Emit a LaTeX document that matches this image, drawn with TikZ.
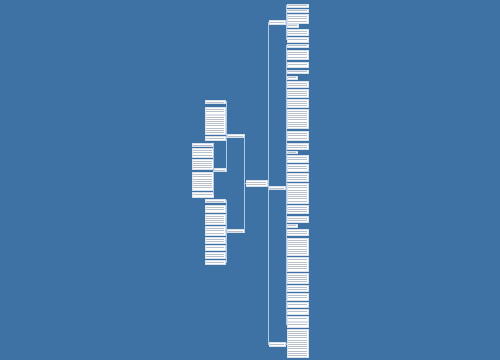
\documentclass[tikz,border=0pt]{standalone}
\definecolor{bgc}{RGB}{62,114,165}
\definecolor{linec}{RGB}{175,202,230}
\definecolor{txtc}{RGB}{185,192,202}
\definecolor{boxline}{RGB}{215,224,235}
\tikzset{
  box/.style={draw=boxline, line width=0.3pt, fill=white, rectangle, inner sep=0pt, outer sep=0pt},
  txt/.style={draw=txtc, line width=0.4pt},
  conn/.style={draw=linec, line width=0.6pt},
}
\newcommand\tb[5]{%
  \node[box, minimum width=#4pt, minimum height=#5pt] (#1) at (#2+#4/2, #3+#5/2) {};
  \pgfmathtruncatemacro\nl{max(1,floor((#5-1.2)/2.2))}
  \foreach \k in {1,...,\nl} {\draw[txt] (#2+1.2, #3+#5/2-\nl*1.1-1.1+\k*2.2) -- ++(#4-2.4,0);}
}
\begin{document}
\begin{tikzpicture}[x=1pt,y=-1pt]
\fill[bgc] (0,0) rectangle (500,360);
\useasboundingbox (0,0) rectangle (500,360);
% root and level 1
\tb{root}{246}{180}{21}{6}
\tb{A}{227}{134}{17}{3.6}
\tb{B}{227}{229}{17}{3.6}
\tb{C}{214}{168}{12}{3.6}
\tb{R1}{269}{20.5}{16}{3.4}
\tb{R2}{269}{186}{16}{3.4}
\tb{R3}{269}{342.5}{16}{3.4}
% A's children
\foreach \i/\y/\h in {1/100/3.5,2/107/7,3/115/19,4/136/4}{\tb{a\i}{205}{\y}{20}{\h}}
% C's children
\foreach \i/\y/\h in {1/143/3.5,2/148/9,3/159/10.5,4/172/18,5/192/5}{\tb{c\i}{192}{\y}{21}{\h}}
% B's children
\foreach \i/\y/\h in {1/199/3.5,2/205/7,3/214/10,4/226/9,5/237/6,6/245/5,7/252/6,8/260/4}{\tb{b\i}{205}{\y}{20}{\h}}
% right column
\foreach \i/\y/\h/\w in {1/4/3/21,2/9/3/21,3/14/9/21,4/24/3/11,5/29/6/21,6/37/5/21,7/44/3/21,8/50/9/21,9/62/5/21,10/70/3/21,11/76/3/10,12/81/6/21,13/89/8/21,14/99/8/21,15/109/19/21,16/131/9/21,17/143/6/21,18/151/2.6/10,19/155/7/21,20/164/7/21,21/173/8/21,22/183/20/21,23/205/8/21,24/216/6/21,25/224/3/10,26/229/6/21,27/238/17/21,28/257/14/21,29/273/10/21,30/285/6/21,31/293/7/21,32/302/5/21,33/309/5/21,34/316/5/21,35/322/5/21,36/329/28/21}{\tb{r\i}{287}{\y}{\w}{\h}}
% connectors
\foreach \n in {A,B}{\draw[conn] (root.west) -- ++(-1.5,0) |- (\n.east);}
\foreach \n in {R1,R2,R3}{\draw[conn] (root.east) -- ++(1,0) |- (\n.west);}
\foreach \i in {1,...,4}{\draw[conn] (A.west) -- ++(-0.8,0) |- (a\i.east);}
\draw[conn] (A.west) -- ++(-0.8,0) |- (C.east);
\foreach \i in {1,...,5}{\draw[conn] (C.west) -- ++(-0.5,0) |- (c\i.east);}
\foreach \i in {1,...,8}{\draw[conn] (B.west) -- ++(-1,0) |- (b\i.east);}
\foreach \i in {1,...,6}{\draw[conn] (R1.east) -- ++(1,0) |- (r\i.west);}
\foreach \i in {7,...,35}{\draw[conn] (R2.east) -- ++(1,0) |- (r\i.west);}
\draw[conn] (R3.east) -- ++(1,0) |- (r36.west);
\end{tikzpicture}
\end{document}
